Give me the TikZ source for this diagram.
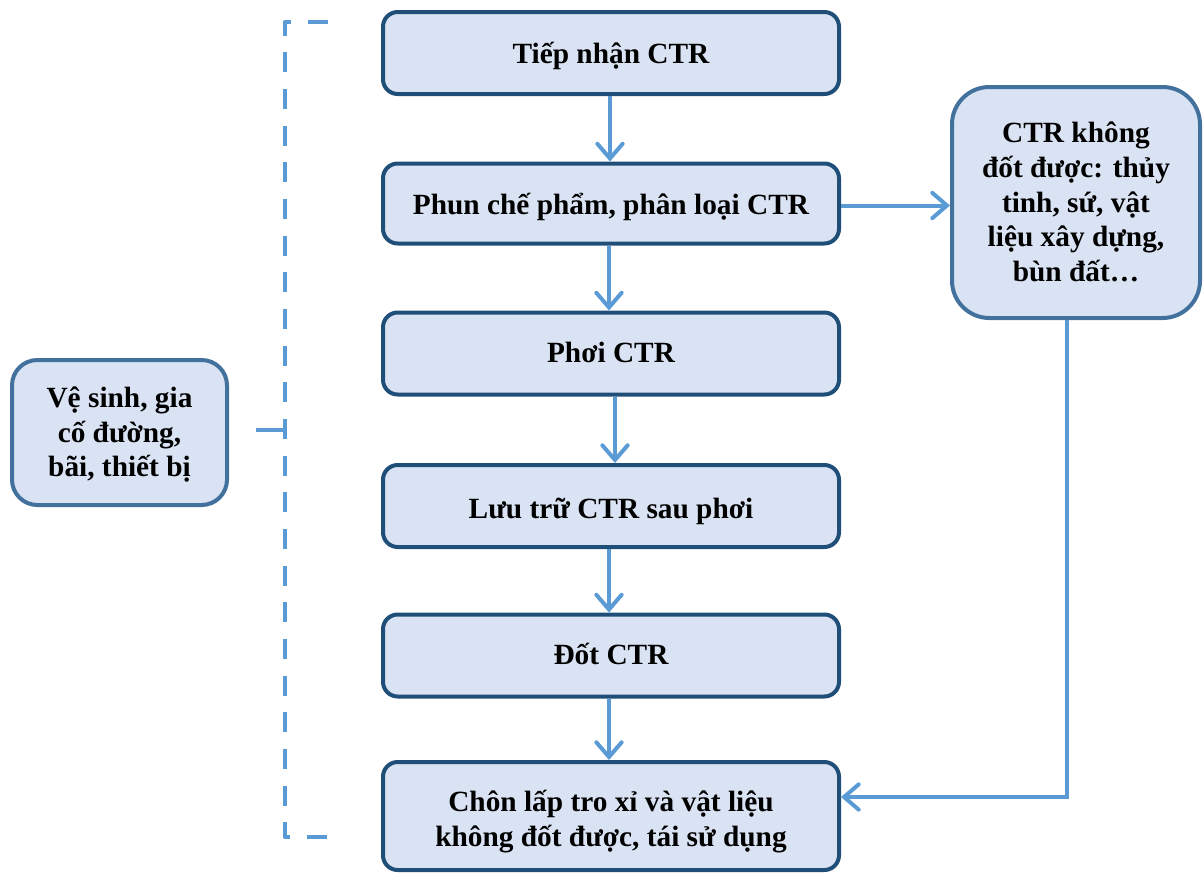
\documentclass[tikz,border=0pt]{standalone}
\usepackage{fontspec}
\setmainfont{Liberation Serif}
\usetikzlibrary{arrows.meta}
\definecolor{boxfill}{HTML}{DAE3F3}
\definecolor{darkedge}{HTML}{1F4E79}
\definecolor{sideedge}{HTML}{41719C}
\definecolor{arrowblue}{HTML}{5B9BD5}
\newcommand\boxtext[2][-3pt]{\raisebox{#1}[\height][\depth]{\begin{tabular}{@{}c@{}}#2\end{tabular}}}
\tikzset{
  mainbox/.style={draw=darkedge, line width=3pt, fill=boxfill, rounded corners=11pt,
    minimum width=342pt, minimum height=61.5pt, inner sep=0pt, align=center,
    font=\bfseries\fontsize{22}{26}\selectfont},
  sidebox/.style={draw=sideedge, line width=3pt, fill=boxfill, inner sep=0pt, align=center,
    font=\bfseries\fontsize{22}{26}\selectfont},
  flow/.style={draw=arrowblue, line width=3pt,
    -{Straight Barb[length=11pt,width=19pt,line cap=round]}},
  bracket/.style={draw=arrowblue, line width=3pt, dash pattern=on 15pt off 12.5pt},
}
\begin{document}
\begin{tikzpicture}[x=0.75pt,y=-0.75pt]
\useasboundingbox (0,0) rectangle (1204,875);
\node[mainbox] (b1) at (611,53) {\boxtext{Tiếp nhận CTR}};
\node[mainbox, minimum height=60pt] (b2) at (611,203.5) {\boxtext{Phun chế phẩm, phân loại CTR}};
\node[mainbox] (b3) at (611,353.5) {\boxtext[-1.5pt]{Phơi CTR}};
\node[mainbox] (b4) at (611,506) {\boxtext[-4pt]{Lưu trữ CTR sau phơi}};
\node[mainbox] (b5) at (611,655.5) {\boxtext[-1.5pt]{Đốt CTR}};
\node[mainbox, minimum height=81pt] (b6) at (611,816) {\boxtext[-4.5pt]{Chôn lấp tro xỉ và vật liệu\\không đốt được, tái sử dụng}};
\node[sidebox, rounded corners=28pt, minimum width=186pt, minimum height=173.25pt] (r) at (1076,202.5)
  {\boxtext[-2pt]{CTR không\\đốt được: thủy\\tinh, sứ, vật\\liệu xây dựng,\\bùn đất…}};
\node[sidebox, rounded corners=19pt, minimum width=161.25pt, minimum height=108.75pt] (l) at (119.5,432.5)
  {\boxtext[-2pt]{Vệ sinh, gia\\cố đường,\\bãi, thiết bị}};
\draw[flow] ([xshift=-0.75pt]b1.south) -- ([xshift=-0.75pt]b2.north);
\draw[flow] ([xshift=-1.5pt]b2.south) -- ([xshift=-1.5pt]b3.north);
\draw[flow] ([xshift=3pt]b3.south) -- ([xshift=3pt]b4.north);
\draw[flow] ([xshift=-1.5pt]b4.south) -- ([xshift=-1.5pt]b5.north);
\draw[flow] ([xshift=-1.5pt]b5.south) -- ([xshift=-1.5pt]b6.north);
\draw[flow] ([yshift=-1.5pt]b2.east) -- ([yshift=-1.5pt]b2.east -| r.west);
\draw[flow] ([xshift=-6.75pt]r.south) |- ([yshift=14.25pt]b6.east);
\coordinate (bt) at (328,22);
\coordinate (bb) at (328,837);
\coordinate (tk) at (256,430);
\draw[bracket, line join=round] (bt) -- (285,22) -- (285,837) -- (bb);
\draw[draw=arrowblue, line width=3pt] (tk) -- (283,430);
\end{tikzpicture}
\end{document}
